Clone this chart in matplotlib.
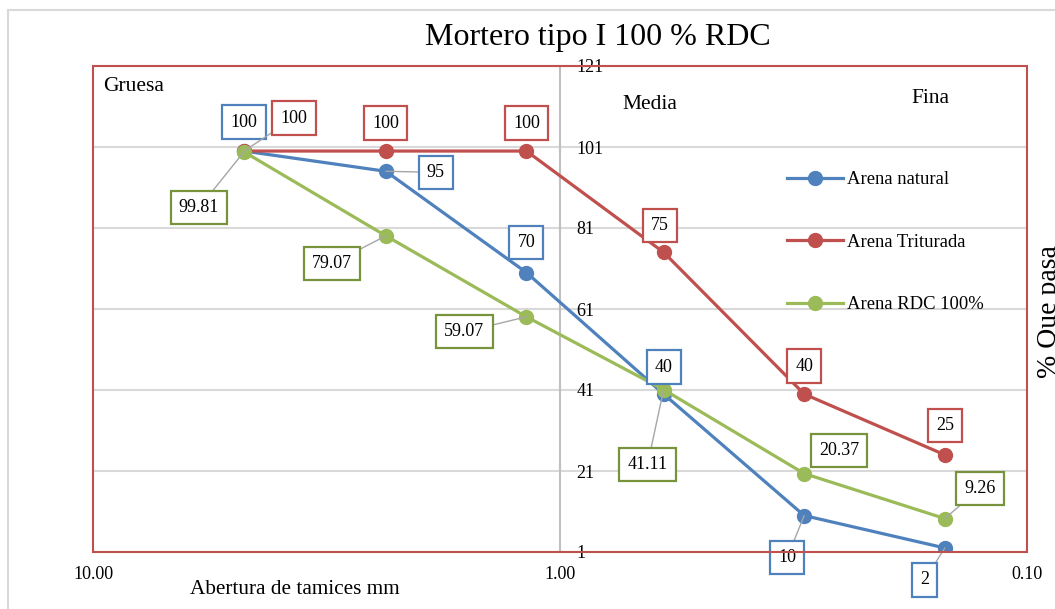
import numpy as np
import matplotlib
matplotlib.use("Agg")
import matplotlib.pyplot as plt
from matplotlib.patches import Rectangle

plt.rcParams['font.family'] = ['Liberation Serif', 'DejaVu Serif']

# data
tamiz = [4.75, 2.36, 1.18, 0.6, 0.3, 0.15]
natural = [100, 95, 70, 40, 10, 2]
triturada = [100, 100, 100, 75, 40, 25]
rdc = [99.81, 79.07, 59.07, 41.11, 20.37, 9.26]
nombres = ['Arena natural', 'Arena Triturada', 'Arena RDC 100%']
yticks = [1, 21, 41, 61, 81, 101, 121]
xticks = [10, 1, 0.1]

# styles
c_blue = '#4F81BD'
c_red = '#C0504D'
c_green = '#9BBB59'
c_green_box = '#77933C'
c_grid = '#D9D9D9'
c_lead = '#A6A6A6'

# label offsets (pixels) and whether a leader line is drawn
off_nat = [(0, 29), (50, -1), (0, 30), (0, 27), (-17, -42), (-20, -32)]
lead_nat = [False, True, False, False, True, True]
off_tri = [(50, 33), (0, 28), (0, 28), (-4, 27), (0, 28), (0, 29)]
lead_tri = [True, False, False, False, False, False]
off_rdc = [(-45, -56), (-54, -28), (-62, -15), (-16, -75), (35, 23), (35, 30)]
lead_rdc = [True, True, True, True, False, True]

fig = plt.figure(figsize=(10.55, 6.09), dpi=100)
fig.patches.append(Rectangle((8 / 1055, -0.1), 1.2, 1 - 10 / 609 + 0.1,
                             transform=fig.transFigure, fill=False,
                             edgecolor=c_grid, lw=1.5))
ax = fig.add_axes([93 / 1055, 57 / 609, 934 / 1055, 486 / 609])

ax.set_xscale('log')
ax.set_xlim(10, 0.1)
ax.set_ylim(1, 121)
ax.set_yticks(yticks)
ax.set_xticks(xticks)
ax.set_xticklabels(['%.2f' % v for v in xticks])
ax.xaxis.set_minor_locator(matplotlib.ticker.NullLocator())
ax.grid(axis='y', color=c_grid, lw=1.5, zorder=0)
ax.set_axisbelow(True)

for s in ['left', 'top', 'bottom']:
    ax.spines[s].set_visible(False)
ax.spines['right'].set_position(('data', 1.0))
ax.spines['right'].set_color('#BFBFBF')
ax.spines['right'].set_linewidth(1.5)
ax.yaxis.tick_right()
ax.tick_params(axis='y', length=0, pad=12, labelsize=13)
ax.tick_params(axis='x', length=0, pad=10, labelsize=13)
ax.add_patch(Rectangle((0, 0), 1, 1, transform=ax.transAxes, fill=False,
                       edgecolor=c_red, lw=1.5, clip_on=False, zorder=5))

series = [(natural, c_blue, c_blue, off_nat, lead_nat),
          (triturada, c_red, c_red, off_tri, lead_tri),
          (rdc, c_green, c_green_box, off_rdc, lead_rdc)]
for (vals, col, bcol, offs, leads), nom in zip(series, nombres):
    ax.plot(tamiz, vals, color=col, lw=2.3, marker='o', markersize=10,
            label=nom, zorder=3)
    for x, v, o, ld in zip(tamiz, vals, offs, leads):
        ap = dict(arrowstyle='-', color=c_lead, lw=1, shrinkA=0, shrinkB=0) if ld else None
        ax.annotate('%g' % v, (x, v), xytext=o, textcoords='offset pixels',
                    ha='center', va='center', fontsize=13,
                    bbox=dict(boxstyle='square,pad=0.45', fc='white', ec=bcol, lw=1.6),
                    arrowprops=ap, zorder=4)

ax.text(10 / 934, 0.957, 'Gruesa', transform=ax.transAxes, fontsize=15.5,
        ha='left', va='center')
ax.text(0.596, 0.920, 'Media', transform=ax.transAxes, fontsize=15.5,
        ha='center', va='center')
ax.text(0.897, 0.934, 'Fina', transform=ax.transAxes, fontsize=15.5,
        ha='center', va='center')

ax.set_xlabel('Abertura de tamices mm', fontsize=15.3)
ax.xaxis.set_label_coords(0.216, -0.058)
fig.text(1049 / 1055, 1 - 312 / 609, '% Que pasa', rotation=90, fontsize=20,
         ha='center', va='center')
fig.text(598 / 1055, 1 - 38 / 609, 'Mortero tipo I 100 % RDC', fontsize=23,
         ha='center', va='center')

fig.legend(loc='upper left', bbox_to_anchor=(787 / 1055, 1 - 171 / 609),
           frameon=False, fontsize=13.4, labelspacing=2.45, handlelength=3.0,
           handletextpad=0.2, borderpad=0, borderaxespad=0)

fig.savefig('out.png', dpi=100)
